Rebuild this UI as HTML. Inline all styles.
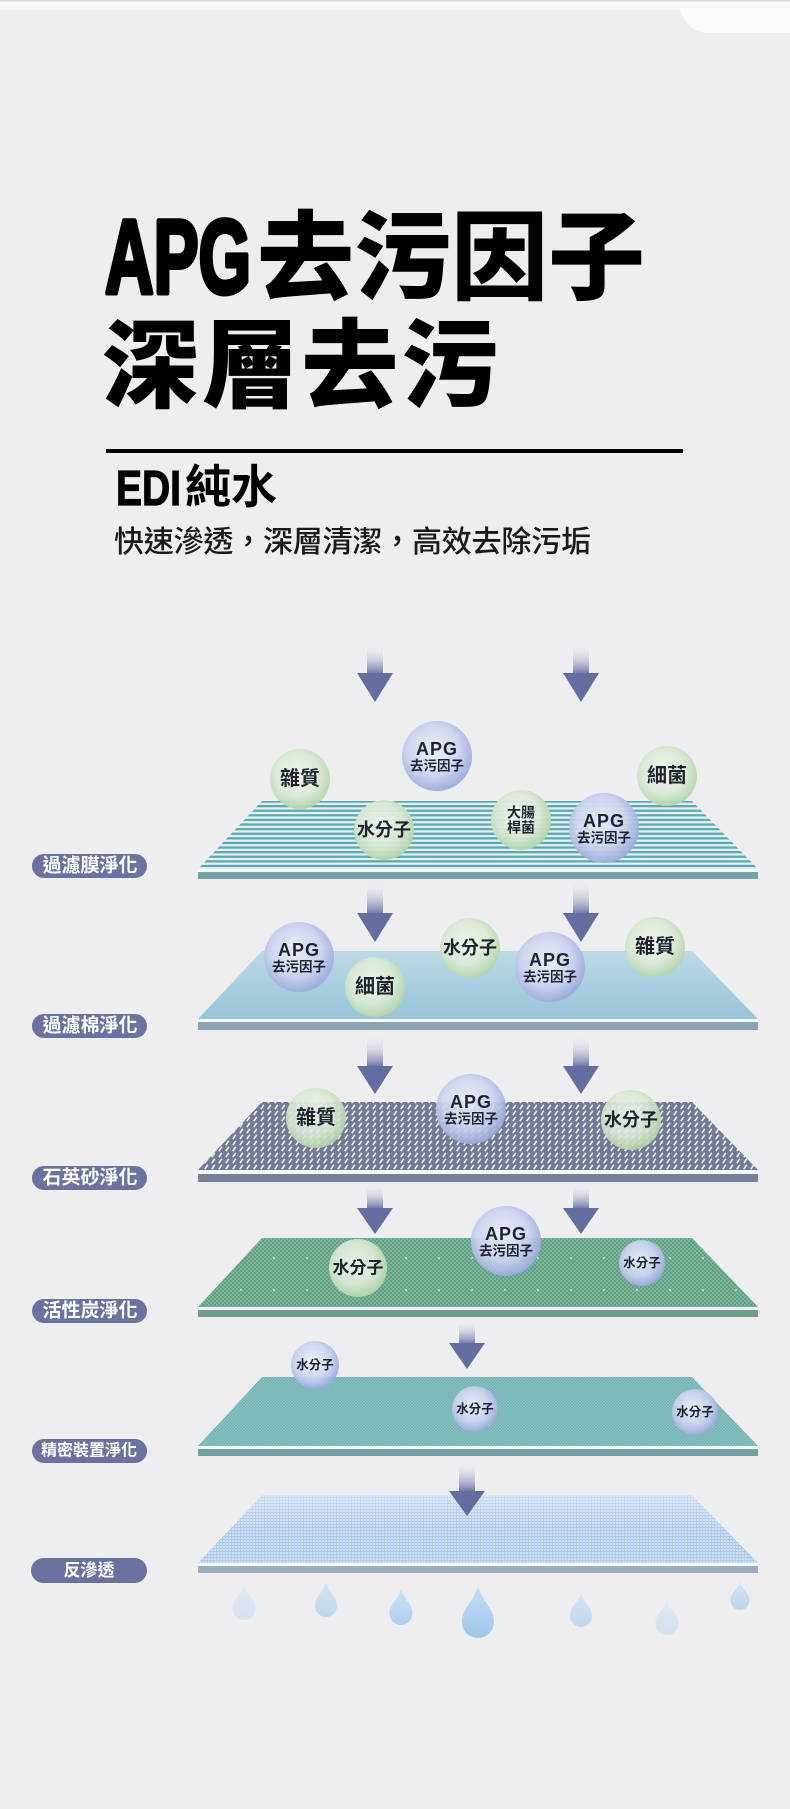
<!DOCTYPE html>
<html>
<head>
<meta charset="utf-8">
<style>
html,body{margin:0;padding:0;background:#eeeef1;}
body{width:790px;height:1809px;overflow:hidden;}
svg{display:block;}
text{font-family:"Liberation Sans","Noto Sans CJK TC",sans-serif;}
</style>
</head>
<body>
<svg width="790" height="1809" viewBox="0 0 790 1809" xmlns="http://www.w3.org/2000/svg">
<defs>
  <pattern id="pStripe" patternUnits="userSpaceOnUse" width="10" height="4.6">
    <rect width="10" height="4.6" fill="#e2eff1"/>
    <rect width="10" height="2.3" fill="#5fa9b3"/>
  </pattern>
  <linearGradient id="gL2" x1="0" y1="0" x2="0" y2="1">
    <stop offset="0" stop-color="#bcd9e5"/>
    <stop offset="1" stop-color="#98c4d8"/>
  </linearGradient>
  <pattern id="pSand" patternUnits="userSpaceOnUse" width="7" height="6">
    <rect width="7" height="6" fill="#727a96"/>
    <line x1="1.8" y1="5.2" x2="4.8" y2="0.8" stroke="#ffffff" stroke-width="1.6" stroke-opacity="0.9"/>
  </pattern>
  <pattern id="pCarbon" patternUnits="userSpaceOnUse" width="4" height="4">
    <rect width="4" height="4" fill="#62a083"/>
    <rect width="2" height="2" fill="#7cb69a"/>
    <rect x="2" y="2" width="2" height="2" fill="#7cb69a"/>
  </pattern>
  <pattern id="pDots" patternUnits="userSpaceOnUse" width="33" height="32">
    <circle cx="10" cy="10" r="0.9" fill="#ffffff" fill-opacity="0.85"/>
  </pattern>
  <pattern id="pFine" patternUnits="userSpaceOnUse" width="3" height="3">
    <rect width="3" height="3" fill="#72b0b0"/>
    <rect width="1.5" height="1.5" fill="#8cc3c3"/>
    <rect x="1.5" y="1.5" width="1.5" height="1.5" fill="#8cc3c3"/>
  </pattern>
  <pattern id="pRO" patternUnits="userSpaceOnUse" width="3" height="3">
    <rect width="3" height="3" fill="#cfe1f3"/>
    <rect width="3" height="1.1" fill="#a8c5e7"/>
    <rect width="1" height="3" fill="#b3cbea"/>
  </pattern>
  <linearGradient id="gFadeTop" x1="0" y1="0" x2="0" y2="1">
    <stop offset="0" stop-color="#ffffff" stop-opacity="0.35"/>
    <stop offset="0.5" stop-color="#ffffff" stop-opacity="0"/>
  </linearGradient>
  <radialGradient id="gG" cx="0.45" cy="0.42" r="0.6">
    <stop offset="0" stop-color="#f1f6ee"/>
    <stop offset="0.6" stop-color="#dbead5"/>
    <stop offset="1" stop-color="#b2d3a8"/>
  </radialGradient>
  <radialGradient id="gB" cx="0.45" cy="0.42" r="0.6">
    <stop offset="0" stop-color="#eef0fa"/>
    <stop offset="0.6" stop-color="#ccd4ef"/>
    <stop offset="1" stop-color="#98a7dc"/>
  </radialGradient>
  <linearGradient id="sh" x1="0" y1="0" x2="0" y2="1">
    <stop offset="0" stop-color="#eeeef1" stop-opacity="0"/>
    <stop offset="1" stop-color="#6a73a5"/>
  </linearGradient>
  <linearGradient id="gDrop" x1="0" y1="0" x2="0" y2="1">
    <stop offset="0" stop-color="#c3def3"/>
    <stop offset="1" stop-color="#98c4ea"/>
  </linearGradient>
</defs>

<!-- background -->
<rect width="790" height="1809" fill="#eeeef1"/>
<rect x="0" y="0" width="790" height="1.5" fill="#d8dbde"/>
<rect x="0" y="1.5" width="790" height="8" fill="#f8f8fa"/>
<path d="M680,8 C683,25 695,33 712,33 L790,33 L790,8 Z" fill="#fafafc"/>

<!-- title -->
<text x="105" y="293" font-size="105" font-weight="bold" fill="#000" stroke="#000" stroke-width="5" stroke-linejoin="round" textLength="146" lengthAdjust="spacingAndGlyphs">APG</text>
<text x="257" y="292" font-size="97" font-weight="900" fill="#000" textLength="388" lengthAdjust="spacing">去污因子</text>
<text x="102" y="400" font-size="97" font-weight="900" fill="#000" textLength="396" lengthAdjust="spacing">深層去污</text>
<rect x="106" y="449" width="577" height="4" fill="#000"/>
<text x="116" y="505" font-size="49" font-weight="bold" fill="#000" stroke="#000" stroke-width="1.2" textLength="65" lengthAdjust="spacingAndGlyphs">EDI</text>
<text x="185" y="503" font-size="46" font-weight="bold" fill="#000">純水</text>
<text x="114" y="552" font-size="30" font-weight="500" fill="#1a1a1a" textLength="477" lengthAdjust="spacing">快速滲透，深層清潔，高效去除污垢</text>

<!-- Layer 1 -->
<polygon points="262,801 692,801 758,869 198,869" fill="url(#pStripe)"/>
<rect x="198" y="869" width="560" height="3" fill="#f4f6f7"/>
<rect x="198" y="872" width="560" height="7" fill="#74a2a9"/>
<!-- Layer 2 -->
<polygon points="262,951 692,951 758,1019 198,1019" fill="url(#gL2)"/>
<rect x="198" y="1019" width="560" height="3" fill="#f4f6f7"/>
<rect x="198" y="1022" width="560" height="8" fill="#8aa4b4"/>
<!-- Layer 3 -->
<polygon points="262,1102 692,1102 758,1170 198,1170" fill="url(#pSand)"/>
<rect x="198" y="1170" width="560" height="4" fill="#f4f6f7"/>
<rect x="198" y="1174" width="560" height="8" fill="#7a819d"/>
<!-- Layer 4 -->
<polygon points="262,1238 692,1238 758,1307 198,1307" fill="url(#pCarbon)"/>
<polygon points="262,1238 692,1238 758,1307 198,1307" fill="url(#pDots)"/>
<rect x="198" y="1307" width="560" height="3" fill="#f4f6f7"/>
<rect x="198" y="1310" width="560" height="7" fill="#6e9f8b"/>
<!-- Layer 5 -->
<polygon points="262,1377 692,1377 758,1446 198,1446" fill="url(#pFine)"/>
<rect x="198" y="1446" width="560" height="3" fill="#f4f6f7"/>
<rect x="198" y="1449" width="560" height="7" fill="#70a0a2"/>
<!-- Layer 6 -->
<polygon points="262,1495 692,1495 758,1563 198,1563" fill="url(#pRO)"/>
<polygon points="262,1495 692,1495 758,1563 198,1563" fill="url(#gFadeTop)"/>
<rect x="198" y="1563" width="560" height="3" fill="#f4f6f7"/>
<rect x="198" y="1566" width="560" height="7" fill="#9eaebf"/>

<!-- Bubbles layer 1 -->
<g opacity="0.93">
<circle cx="300" cy="779" r="30" fill="url(#gG)"/>
<circle cx="437" cy="756" r="35" fill="url(#gB)"/>
<circle cx="384" cy="830" r="30" fill="url(#gG)"/>
<circle cx="521" cy="820" r="30" fill="url(#gG)"/>
<circle cx="604" cy="828" r="35" fill="url(#gB)"/>
<circle cx="667" cy="776" r="30" fill="url(#gG)"/>
</g>
<g fill="#1f2230" font-weight="bold" text-anchor="middle" dominant-baseline="central">
<text x="300" y="779" font-size="20">雜質</text>
<text x="437" y="749" font-size="18" letter-spacing="1">APG</text>
<text x="437" y="766" font-size="13.5">去污因子</text>
<text x="384" y="830" font-size="18">水分子</text>
<text x="521" y="812.5" font-size="14">大腸</text>
<text x="521" y="827.5" font-size="14">桿菌</text>
<text x="604" y="821" font-size="18" letter-spacing="1">APG</text>
<text x="604" y="838" font-size="13.5">去污因子</text>
<text x="667" y="776" font-size="20">細菌</text>
</g>

<!-- Bubbles layer 2 -->
<g opacity="0.93">
<circle cx="299" cy="957" r="35" fill="url(#gB)"/>
<circle cx="375" cy="987" r="30" fill="url(#gG)"/>
<circle cx="470" cy="948" r="30" fill="url(#gG)"/>
<circle cx="550" cy="967" r="35" fill="url(#gB)"/>
<circle cx="655" cy="947" r="30" fill="url(#gG)"/>
</g>
<g fill="#1f2230" font-weight="bold" text-anchor="middle" dominant-baseline="central">
<text x="299" y="950" font-size="18" letter-spacing="1">APG</text>
<text x="299" y="967" font-size="13.5">去污因子</text>
<text x="375" y="987" font-size="20">細菌</text>
<text x="470" y="948" font-size="18">水分子</text>
<text x="550" y="960" font-size="18" letter-spacing="1">APG</text>
<text x="550" y="977" font-size="13.5">去污因子</text>
<text x="655" y="947" font-size="20">雜質</text>
</g>

<!-- Bubbles layer 3 -->
<g opacity="0.9">
<circle cx="316" cy="1118" r="30" fill="url(#gG)"/>
<circle cx="471" cy="1109" r="35" fill="url(#gB)"/>
<circle cx="631" cy="1120" r="30" fill="url(#gG)"/>
</g>
<g fill="#1f2230" font-weight="bold" text-anchor="middle" dominant-baseline="central">
<text x="316" y="1118" font-size="20">雜質</text>
<text x="471" y="1102" font-size="18" letter-spacing="1">APG</text>
<text x="471" y="1119" font-size="13.5">去污因子</text>
<text x="631" y="1120" font-size="18">水分子</text>
</g>

<!-- Bubbles layer 4 -->
<g opacity="0.93">
<circle cx="358" cy="1268" r="29" fill="url(#gG)"/>
<circle cx="506" cy="1241" r="35" fill="url(#gB)"/>
<circle cx="642" cy="1263" r="23" fill="url(#gB)"/>
</g>
<g fill="#1f2230" font-weight="bold" text-anchor="middle" dominant-baseline="central">
<text x="358" y="1268" font-size="17">水分子</text>
<text x="506" y="1234" font-size="18" letter-spacing="1">APG</text>
<text x="506" y="1251" font-size="13.5">去污因子</text>
<text x="642" y="1263" font-size="12.5">水分子</text>
</g>

<!-- Bubbles layer 5 -->
<g opacity="0.93">
<circle cx="315" cy="1365" r="24" fill="url(#gB)"/>
<circle cx="475" cy="1409" r="23" fill="url(#gB)"/>
<circle cx="695" cy="1412" r="23" fill="url(#gB)"/>
</g>
<g fill="#1f2230" font-weight="bold" text-anchor="middle" dominant-baseline="central">
<text x="315" y="1365" font-size="12.5">水分子</text>
<text x="475" y="1409" font-size="12.5">水分子</text>
<text x="695" y="1412" font-size="12.5">水分子</text>
</g>

<!-- Arrows -->
<g>
<rect x="367" y="645" width="16" height="29" fill="url(#sh)"/><polygon points="357,673 393,673 375,702" fill="#646d9f"/>
<rect x="573" y="645" width="16" height="29" fill="url(#sh)"/><polygon points="563,673 599,673 581,702" fill="#646d9f"/>
<rect x="367" y="882" width="16" height="32" fill="url(#sh)"/><polygon points="357,913 393,913 375,942" fill="#646d9f"/>
<rect x="573" y="882" width="16" height="32" fill="url(#sh)"/><polygon points="563,913 599,913 581,942" fill="#646d9f"/>
<rect x="367" y="1036" width="16" height="31" fill="url(#sh)"/><polygon points="357,1066 393,1066 375,1094" fill="#646d9f"/>
<rect x="573" y="1036" width="16" height="31" fill="url(#sh)"/><polygon points="563,1066 599,1066 581,1094" fill="#646d9f"/>
<rect x="367" y="1184" width="16" height="25" fill="url(#sh)"/><polygon points="357,1208 393,1208 375,1234" fill="#646d9f"/>
<rect x="573" y="1184" width="16" height="25" fill="url(#sh)"/><polygon points="563,1208 599,1208 581,1234" fill="#646d9f"/>
<rect x="459" y="1320" width="16" height="24" fill="url(#sh)"/><polygon points="449,1343 485,1343 467,1369" fill="#646d9f"/>
<rect x="459" y="1461" width="16" height="31" fill="url(#sh)"/><polygon points="449,1491 485,1491 467,1516" fill="#646d9f"/>
</g>

<!-- Labels -->
<g>
<rect x="32" y="854" width="115" height="24" rx="12" fill="#6a72a0"/>
<rect x="32" y="1014" width="115" height="24" rx="12" fill="#6a72a0"/>
<rect x="32" y="1166" width="115" height="24" rx="12" fill="#6a72a0"/>
<rect x="32" y="1299" width="115" height="24" rx="12" fill="#6a72a0"/>
<rect x="32" y="1439" width="115" height="24" rx="12" fill="#6a72a0"/>
<rect x="31" y="1558" width="116" height="25" rx="12.5" fill="#6a72a0"/>
</g>
<g fill="#ffffff" font-weight="bold" text-anchor="middle" dominant-baseline="central">
<text x="90" y="866" font-size="19">過濾膜淨化</text>
<text x="90" y="1026" font-size="19">過濾棉淨化</text>
<text x="90" y="1178" font-size="19">石英砂淨化</text>
<text x="90" y="1311" font-size="19">活性炭淨化</text>
<text x="89" y="1451" font-size="16">精密裝置淨化</text>
<text x="89" y="1570.5" font-size="17">反滲透</text>
</g>

<!-- Drops -->
<g fill="url(#gDrop)">
<path d="M244,1585 C248,1597.3 255.5,1598.1 255.5,1608.5 A11.5,11.5 0 0 1 232.5,1608.5 C232.5,1598.1 240,1597.3 244,1585Z" opacity="0.3"/>
<path d="M326,1582 C329.9,1594.3 337,1596.1 337,1606 A11,11 0 0 1 315,1606 C315,1596.1 322.1,1594.3 326,1582Z" opacity="0.55"/>
<path d="M401,1589 C405,1601.6 412.5,1603.2 412.5,1613.5 A11.5,11.5 0 0 1 389.5,1613.5 C389.5,1603.2 397,1601.6 401,1589Z" opacity="0.75"/>
<path d="M478,1586 C483.6,1604.2 494,1607.6 494,1622 A16,16 0 0 1 462,1622 C462,1607.6 472.4,1604.2 478,1586Z" opacity="0.95"/>
<path d="M581,1593 C584.9,1604.9 592,1606.1 592,1616 A11,11 0 0 1 570,1616 C570,1606.1 577.1,1604.9 581,1593Z" opacity="0.55"/>
<path d="M667,1600 C671,1612.3 678.5,1613.2 678.5,1623.5 A11.5,11.5 0 0 1 655.5,1623.5 C655.5,1613.2 663,1612.3 667,1600Z" opacity="0.3"/>
<path d="M740,1582 C743.3,1591.8 749.5,1592 749.5,1600.5 A9.5,9.5 0 0 1 730.5,1600.5 C730.5,1592 736.7,1591.8 740,1582Z" opacity="0.6"/>
</g>
</svg>
</body>
</html>
